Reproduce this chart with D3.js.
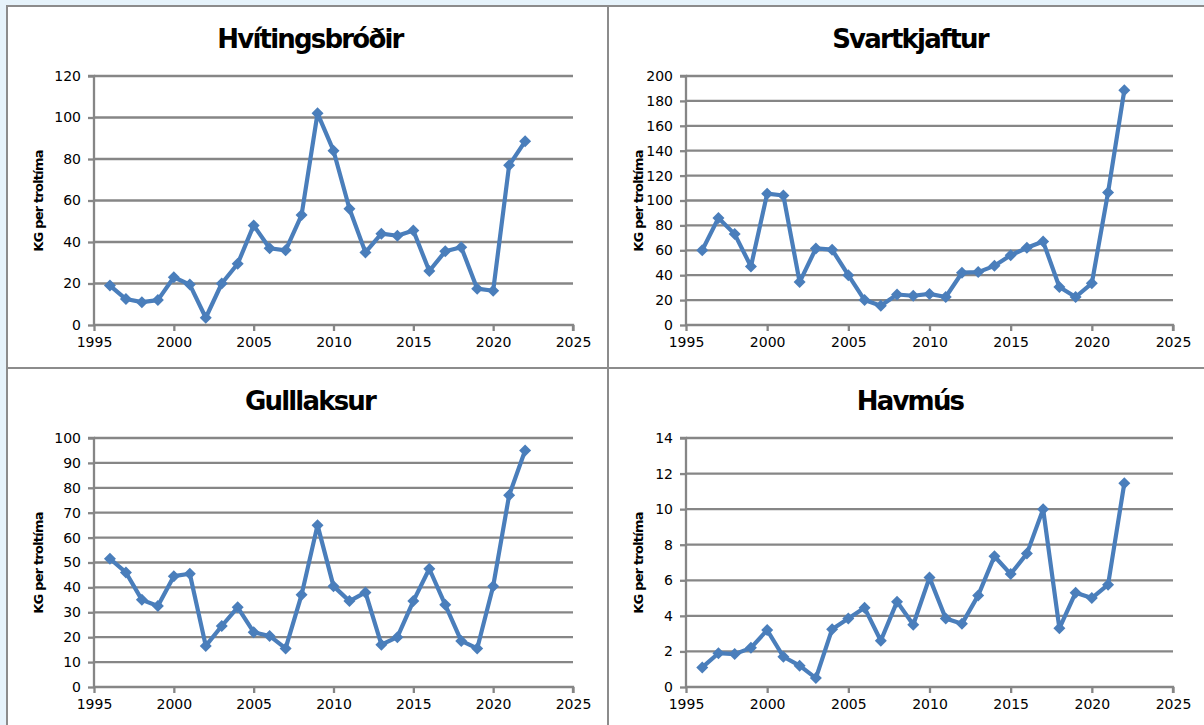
<!DOCTYPE html>
<html><head><meta charset="utf-8">
<script src="https://cdn.jsdelivr.net/npm/d3@7"></script>
<style>
html,body{margin:0;padding:0;background:#e6f3fb;}
svg{display:block;}
</style></head>
<body>
<svg id="c" width="1204" height="725"></svg>
<script>
const years = [1996,1997,1998,1999,2000,2001,2002,2003,2004,2005,2006,2007,2008,2009,2010,2011,2012,2013,2014,2015,2016,2017,2018,2019,2020,2021,2022];
const hvitingsbrodir = [19,12.5,11,12,23,19.5,3.5,20,29.5,48,37,36,53,102,84,56,35,44,43,45.5,26,35.5,37.5,17.5,16.5,77,88.5];
const svartkjaftur = [60,86,73,47,105.5,104,34.5,61.5,60.5,40,20,15.5,24.5,23.5,25,22.5,42,42.5,47.5,56,62,67,30.5,22.5,33.5,106.5,188.5];
const gulllaksur = [51.5,46,35,32.5,44.5,45.5,16.5,24.5,32,22,20.5,15.5,37,65,40.5,34.5,38,17,20,34.5,47.5,33,18.5,15.5,40.5,77,95];
const havmus = [1.1,1.9,1.85,2.2,3.2,1.7,1.2,0.5,3.25,3.85,4.45,2.6,4.8,3.5,6.15,3.85,3.55,5.15,7.35,6.35,7.5,10.0,3.3,5.3,5.0,5.75,11.45];
const titles = ["Hvítingsbróðir","Svartkjaftur","Gulllaksur","Havmús"];
const yMaxes = [120,200,100,14];
const ySteps = [20,20,10,2];
const xTicks = [1995,2000,2005,2010,2015,2020,2025];
const yLabel = "KG per troltíma";
const series = [hvitingsbrodir, svartkjaftur, gulllaksur, havmus];

const svg = d3.select("#c");
const W = 1204, H = 725;
const colX = [7, 608], rowY = [6, 368];
const gridColor = "#868686";
const lineColor = "#4a7ebb";

svg.append("rect").attr("x",7).attr("y",6).attr("width",W-7).attr("height",H-6).attr("fill","#fff");

for (let i=0;i<4;i++){
  const c = i%2, r = Math.floor(i/2);
  const g = svg.append("g").attr("transform",`translate(${colX[c]},${rowY[r]})`);
  const left = c===0 ? 87 : 78;
  const right = c===0 ? 566 : 565;
  const top = 70, bottom = 319;
  const x = d3.scaleLinear().domain([1995,2025]).range([left,right]);
  const y = d3.scaleLinear().domain([0,yMaxes[i]]).range([bottom,top]);
  const yt = d3.range(0, yMaxes[i]+ySteps[i]/2, ySteps[i]);

  g.append("g").selectAll("line").data(yt.filter(v=>v>0)).join("line")
    .attr("x1",left).attr("x2",right).attr("y1",d=>y(d)).attr("y2",d=>y(d))
    .attr("stroke",gridColor).attr("stroke-width",2.3);

  const ya = g.append("g").attr("transform",`translate(${left},0)`)
    .call(d3.axisLeft(y).tickValues(yt).tickSize(6).tickPadding(7).tickFormat(d3.format("d")));
  ya.select(".domain").attr("stroke",gridColor).attr("stroke-width",2.3).attr("d",`M-6,${top}H0V${bottom}`);
  ya.selectAll(".tick line").attr("stroke",gridColor).attr("stroke-width",2.3);
  ya.selectAll("text").attr("font-family","DejaVu Sans, Verdana, sans-serif").attr("font-size",14).attr("fill","#000");

  const xa = g.append("g").attr("transform",`translate(0,${bottom})`)
    .call(d3.axisBottom(x).tickValues(xTicks).tickSize(6).tickPadding(6).tickFormat(d3.format("d")));
  xa.select(".domain").attr("stroke",gridColor).attr("stroke-width",2.3).attr("d",`M${left},0H${right}V6`);
  xa.selectAll(".tick line").attr("stroke",gridColor).attr("stroke-width",2.3);
  xa.selectAll("text").attr("font-family","DejaVu Sans, Verdana, sans-serif").attr("font-size",14).attr("fill","#000");

  const data = years.map((yr,k)=>[yr, series[i][k]]);
  g.append("path").datum(data)
    .attr("d", d3.line().x(d=>x(d[0])).y(d=>y(d[1])))
    .attr("fill","none").attr("stroke",lineColor).attr("stroke-width",4.2).attr("stroke-linejoin","round");
  g.append("g").selectAll("path").data(data).join("path")
    .attr("transform",d=>`translate(${x(d[0])},${y(d[1])})`)
    .attr("d","M0,-6L6,0L0,6L-6,0Z").attr("fill",lineColor);

  g.append("text").attr("x", c===0 ? 303 : 302).attr("y",42)
    .attr("text-anchor","middle").attr("font-family","DejaVu Sans, Verdana, sans-serif")
    .attr("font-weight","bold").attr("font-size",26).attr("letter-spacing","-1.8px")
    .attr("fill","#000").text(titles[i]);

  g.append("text").attr("transform",`translate(${c===0?36:35},${195}) rotate(-90)`)
    .attr("text-anchor","middle").attr("font-family","DejaVu Sans, Verdana, sans-serif")
    .attr("font-weight","bold").attr("font-size",13).attr("letter-spacing","-0.8px")
    .attr("fill","#000").text(yLabel);
}

const bc = "#8c8c8c";
svg.append("line").attr("x1",6).attr("x2",W).attr("y1",6).attr("y2",6).attr("stroke",bc).attr("stroke-width",2);
svg.append("line").attr("x1",7).attr("x2",7).attr("y1",6).attr("y2",H).attr("stroke",bc).attr("stroke-width",2);
svg.append("line").attr("x1",608).attr("x2",608).attr("y1",6).attr("y2",H).attr("stroke",bc).attr("stroke-width",2);
svg.append("line").attr("x1",7).attr("x2",W).attr("y1",368).attr("y2",368).attr("stroke",bc).attr("stroke-width",2);
</script>
</body></html>
